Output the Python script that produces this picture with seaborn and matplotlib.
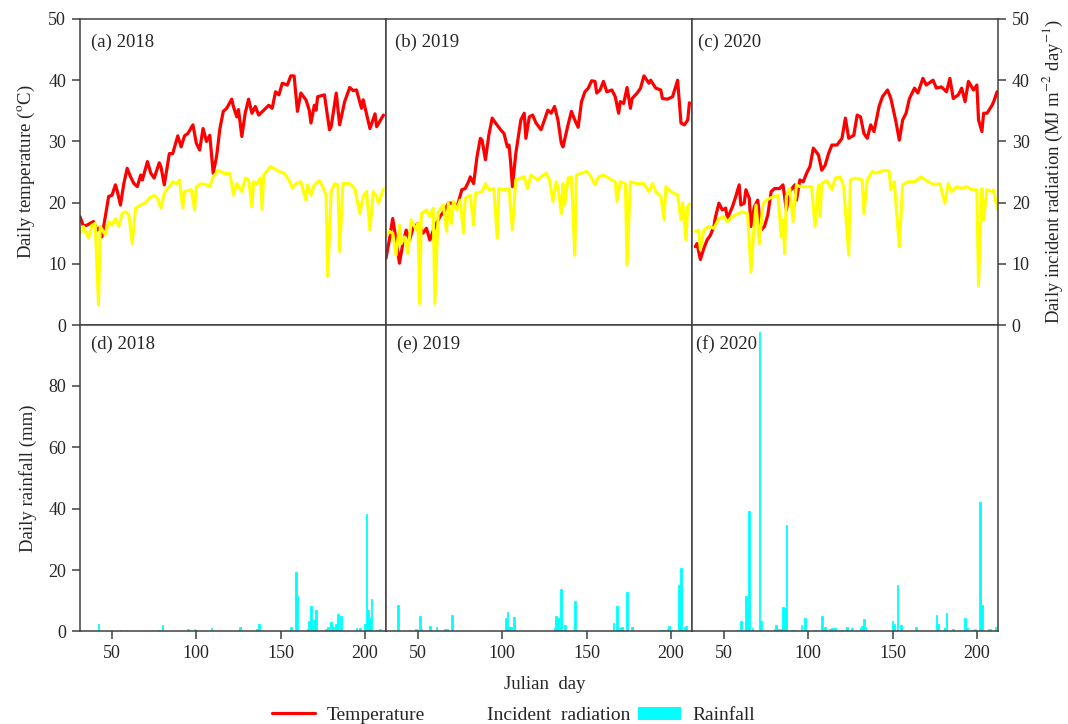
import numpy as np
import pandas as pd
import matplotlib
matplotlib.use('Agg')
import matplotlib.pyplot as plt
from matplotlib.lines import Line2D
from matplotlib.patches import Patch
import seaborn as sns

# ---- data (Julian day, value) ----
temp18_day = [31, 33, 35, 39, 41, 43, 44, 46, 48, 50, 52, 53, 55, 57, 59, 61, 63, 65, 67, 68, 71, 73, 75, 78,
              79, 81, 84, 86, 89, 91, 93, 95, 98, 100, 102, 104, 106, 108, 110, 112, 114, 116, 118, 121, 122,
              124, 125, 127, 129, 131, 133, 135, 137, 140, 143, 145, 147, 149, 151, 154, 156, 158, 160, 162,
              165, 167, 168, 170, 171, 172, 176, 179, 180, 183, 185, 188, 191, 193, 195, 198, 199, 203, 206,
              207, 211]
temp18 = [17.7, 16.2, 16.3, 16.9, 15.5, 16.0, 14.4, 17.7, 21.0, 21.2, 22.9, 22.0, 19.6, 23.1, 25.6, 24.2, 23.1,
          22.6, 24.5, 23.7, 26.7, 24.8, 24.0, 26.5, 25.9, 22.9, 28.0, 28.0, 30.9, 29.1, 30.9, 31.3, 32.7, 29.7,
          28.6, 32.1, 30.0, 31.0, 24.8, 27.5, 32.1, 34.9, 35.4, 36.9, 35.7, 34.0, 35.2, 30.8, 34.6, 36.9, 34.6,
          35.7, 34.3, 35.1, 35.9, 35.4, 38.1, 37.6, 39.5, 39.2, 40.7, 40.7, 34.9, 37.9, 36.8, 35.1, 33.0, 35.9,
          35.1, 37.3, 37.6, 31.9, 32.4, 37.9, 32.7, 36.5, 38.8, 38.3, 38.4, 35.4, 36.8, 32.1, 34.5, 32.4, 34.3]

rad18_day = [31, 33, 36, 38, 40, 42, 43, 46, 48, 50, 52, 54, 56, 58, 60, 62, 64, 67, 70, 72, 75, 77, 79, 81,
             83, 86, 88, 90, 92, 93, 97, 99, 100, 103, 106, 108, 110, 113, 116, 120, 122, 124, 127, 129, 131,
             133, 134, 136, 138, 139, 140, 144, 146, 149, 152, 155, 157, 159, 162, 165, 166, 168, 170, 173,
             175, 177, 178, 180, 182, 184, 185, 187, 191, 194, 197, 199, 201, 203, 205, 207, 208, 211]
rad18 = [14.9, 16.1, 14.2, 16.3, 16.6, 3.3, 16.1, 14.7, 16.9, 16.3, 17.4, 16.1, 18.2, 18.5, 18.0, 13.3, 19.1,
         19.6, 20.0, 20.7, 21.2, 20.7, 19.1, 21.5, 22.3, 23.4, 23.1, 23.7, 19.1, 21.8, 22.1, 18.8, 22.6, 23.1,
         22.9, 22.6, 24.2, 25.3, 24.8, 24.7, 21.2, 23.1, 21.8, 24.0, 23.7, 19.3, 23.4, 23.1, 24.0, 18.9, 24.5,
         25.9, 25.6, 25.1, 24.8, 23.7, 22.3, 23.1, 23.4, 20.4, 22.9, 21.2, 22.9, 23.6, 22.6, 21.2, 7.9, 21.8,
         23.1, 22.9, 12.0, 23.1, 23.1, 22.3, 18.2, 21.0, 21.8, 15.5, 21.8, 21.0, 19.9, 22.2]

temp19_day = [31, 33, 35, 37, 39, 41, 43, 45, 47, 50, 53, 55, 57, 60, 63, 66, 68, 71, 73, 76, 78, 80, 81, 83,
              85, 87, 88, 90, 92, 94, 96, 99, 101, 103, 104, 105, 106, 108, 111, 113, 114, 116, 118, 120, 123,
              125, 127, 129, 131, 133, 135, 136, 139, 141, 143, 145, 147, 149, 151, 153, 155, 156, 158, 160,
              162, 165, 167, 169, 170, 172, 174, 176, 177, 180, 182, 184, 187, 188, 191, 194, 195, 198, 201,
              204, 206, 208, 210, 211]
temp19 = [10.9, 13.9, 17.4, 13.9, 10.1, 13.3, 15.5, 13.9, 15.8, 16.6, 15.0, 15.8, 13.9, 16.1, 17.7, 18.8, 19.9,
          19.9, 19.1, 22.1, 22.3, 23.4, 24.2, 23.1, 27.5, 30.5, 30.2, 27.0, 31.0, 33.8, 33.0, 31.9, 31.3, 29.1,
          29.4, 26.4, 22.6, 28.0, 33.5, 34.6, 30.5, 34.0, 34.3, 33.0, 31.9, 33.5, 35.1, 34.6, 35.7, 33.5, 29.7,
          29.1, 32.7, 34.9, 33.5, 32.3, 36.5, 38.1, 38.7, 39.9, 39.8, 37.9, 38.4, 39.8, 38.1, 38.4, 37.3, 34.6,
          36.5, 36.2, 38.8, 35.4, 37.0, 37.9, 38.7, 40.7, 39.5, 40.0, 38.7, 38.4, 37.0, 36.9, 37.3, 40.0, 33.0,
          32.7, 33.5, 36.3]

rad19_day = [31, 33, 35, 37, 39, 40, 42, 44, 46, 49, 50, 51, 52, 55, 57, 59, 60, 62, 65, 67, 68, 70, 71, 73,
             75, 77, 78, 81, 83, 84, 88, 90, 92, 95, 97, 98, 101, 104, 106, 108, 111, 113, 115, 117, 121, 123,
             126, 128, 130, 132, 133, 135, 136, 137, 139, 141, 143, 144, 147, 150, 152, 155, 157, 160, 163,
             167, 168, 170, 173, 174, 176, 180, 184, 187, 189, 191, 194, 196, 197, 200, 204, 206, 207, 209,
             210, 211]
rad19 = [14.4, 15.3, 15.0, 11.4, 16.3, 13.3, 14.4, 11.7, 17.2, 15.5, 16.6, 3.5, 18.2, 18.8, 17.7, 19.1, 3.5,
         18.5, 19.6, 15.3, 19.9, 16.6, 20.2, 18.8, 20.4, 15.0, 20.7, 21.2, 16.3, 21.5, 21.8, 23.1, 22.1, 22.3,
         14.2, 22.3, 22.1, 22.3, 15.5, 23.7, 24.0, 24.2, 22.3, 24.5, 23.7, 24.2, 24.8, 23.7, 20.2, 23.4, 22.6,
         18.2, 23.1, 19.6, 24.0, 24.2, 11.4, 24.5, 24.8, 25.1, 24.5, 22.9, 24.2, 24.5, 24.0, 23.4, 20.2, 23.4,
         23.1, 9.8, 23.4, 23.1, 23.1, 21.8, 23.1, 21.8, 21.0, 17.2, 22.6, 21.8, 21.2, 17.2, 19.9, 13.9, 19.3,
         19.8]

temp20_day = [33, 34, 36, 38, 40, 42, 44, 45, 47, 49, 51, 52, 55, 57, 59, 60, 62, 63, 65, 66, 68, 70, 72, 74,
              76, 78, 80, 83, 85, 87, 89, 92, 93, 95, 97, 99, 101, 103, 106, 108, 110, 112, 114, 117, 120, 122,
              124, 127, 129, 131, 133, 135, 137, 139, 142, 144, 147, 149, 152, 154, 156, 158, 160, 163, 165,
              168, 170, 174, 176, 179, 182, 184, 186, 189, 191, 193, 195, 198, 200, 201, 203, 204, 206, 209,
              210, 212]
temp20 = [12.8, 13.3, 10.7, 12.5, 13.9, 14.7, 16.1, 17.7, 19.9, 18.8, 19.1, 17.4, 19.3, 21.0, 22.9, 19.6, 19.9,
          22.1, 20.7, 16.1, 19.3, 20.4, 15.5, 16.1, 18.0, 21.8, 22.3, 22.3, 22.9, 18.8, 21.8, 22.9, 20.4, 23.7,
          23.4, 24.8, 25.9, 28.9, 27.8, 25.3, 26.1, 28.0, 29.4, 29.4, 30.5, 33.8, 30.5, 31.0, 34.3, 34.0, 31.3,
          30.5, 32.7, 31.6, 35.7, 37.3, 38.4, 37.0, 33.2, 30.2, 33.5, 34.6, 37.0, 38.7, 37.9, 40.3, 39.2, 40.0,
          38.7, 38.9, 38.1, 40.3, 37.0, 37.6, 38.7, 36.5, 39.8, 38.4, 39.2, 33.5, 31.6, 34.6, 34.6, 35.9, 36.5,
          38.1]

rad20_day = [33, 35, 36, 38, 41, 44, 47, 50, 52, 55, 57, 61, 64, 66, 68, 69, 71, 73, 75, 77, 80, 82, 84, 85,
             86, 87, 89, 91, 93, 95, 98, 102, 104, 106, 107, 108, 111, 114, 116, 119, 121, 124, 125, 128, 132,
             133, 135, 138, 140, 143, 146, 148, 149, 151, 154, 156, 159, 163, 167, 171, 175, 178, 181, 183,
             185, 188, 191, 194, 197, 200, 201, 203, 204, 206, 209, 210, 212]
rad20 = [15.3, 15.5, 12.3, 15.5, 16.1, 15.8, 17.4, 17.7, 16.9, 17.7, 18.0, 18.5, 18.2, 8.7, 16.6, 19.6, 13.3,
         19.6, 20.4, 20.7, 21.0, 21.2, 14.4, 17.2, 11.7, 21.0, 22.3, 16.9, 22.9, 22.6, 22.6, 22.6, 16.1, 22.9,
         17.7, 23.1, 23.6, 22.1, 24.0, 24.2, 22.6, 11.4, 23.7, 24.0, 23.7, 18.2, 23.7, 25.1, 24.8, 25.1, 25.3,
         25.1, 22.1, 23.4, 12.8, 22.9, 23.4, 23.4, 24.2, 23.4, 22.9, 23.1, 19.9, 23.1, 21.8, 22.6, 22.3, 22.6,
         22.1, 22.1, 6.5, 22.3, 17.2, 22.1, 21.8, 22.1, 19.1]

rain18_day = [42, 55, 78, 80, 95, 99, 100, 109, 126, 136, 137, 156, 159, 160, 166, 167, 168, 170, 171, 174, 177,
              178, 180, 181, 183, 184, 186, 195, 197, 200, 201, 202, 203, 204, 207, 209]
rain18 = [2.5, 0.5, 0.5, 2.2, 0.8, 0.8, 0.5, 1.1, 1.4, 0.8, 2.5, 1.4, 19.4, 11.6, 0.8, 3.3, 8.4, 3.8, 7.1, 0.3,
          0.8, 1.6, 3.2, 1.6, 2.5, 5.8, 5.2, 1.1, 1.1, 2.5, 38.4, 7.1, 4.4, 10.6, 0.5, 0.8]

rain19_day = [38, 45, 49, 51, 52, 57, 61, 66, 67, 70, 102, 103, 104, 105, 107, 131, 132, 133, 135, 137, 143, 144,
              166, 168, 170, 171, 174, 177, 194, 196, 198, 199, 201, 205, 206, 208, 209]
rain19 = [8.5, 0.5, 0.8, 4.9, 0.8, 1.8, 1.4, 0.8, 0.8, 5.5, 4.4, 6.3, 1.4, 1.4, 4.6, 1.1, 4.9, 4.4, 14.0, 2.0,
          9.8, 0.5, 2.9, 8.4, 1.1, 1.4, 12.8, 1.4, 0.5, 0.5, 0.9, 1.8, 0.5, 15.2, 20.7, 1.4, 1.8]

rain20_day = [58, 60, 63, 64, 65, 67, 71, 72, 80, 81, 82, 84, 85, 86, 87, 91, 96, 98, 104, 108, 110, 113, 114,
              116, 120, 123, 126, 131, 132, 133, 134, 150, 151, 153, 155, 164, 176, 177, 181, 182, 186, 193,
              194, 197, 199, 202, 203, 207, 208, 211]
rain20 = [0.5, 3.3, 11.6, 5.4, 39.2, 1.1, 97.7, 3.3, 0.8, 2.0, 0.8, 0.8, 7.9, 7.6, 34.8, 0.5, 2.2, 4.4, 0.5, 5.1,
          1.4, 0.8, 1.1, 1.1, 0.5, 1.4, 1.1, 1.1, 1.8, 4.1, 1.4, 3.4, 2.5, 15.2, 2.2, 1.4, 5.4, 2.4, 1.1, 6.0,
          0.8, 4.4, 1.1, 0.5, 0.8, 42.1, 8.5, 0.8, 0.8, 1.4]

top_labels = ['(a) 2018', '(b) 2019', '(c) 2020']
bot_labels = ['(d) 2018', '(e) 2019', '(f) 2020']

temp = [(temp18_day, temp18), (temp19_day, temp19), (temp20_day, temp20)]
rad = [(rad18_day, rad18), (rad19_day, rad19), (rad20_day, rad20)]
rain = [(rain18_day, rain18), (rain19_day, rain19), (rain20_day, rain20)]

sns.set_style('ticks')
plt.rcParams['font.family'] = ['Liberation Serif', 'DejaVu Serif']
plt.rcParams['mathtext.fontset'] = 'stix'
plt.rcParams['font.size'] = 13

edge = '#404040'
fig = plt.figure(figsize=(10.68, 7.24), dpi=100)

x0, w = 0.0749, 0.2865
top_b, h = 0.5511, 0.4227
bot_b = 0.1278
xlim = (31, 212.5)
top_lab_x = [0.036, 0.03, 0.02]
bot_lab_x = [0.036, 0.036, 0.013]

for i in range(3):
    ax = fig.add_axes([x0 + i * w, top_b, w, h])
    d, v = temp[i]
    sns.lineplot(x=d, y=v, ax=ax, color='red', lw=2.3)
    d, v = rad[i]
    sns.lineplot(x=d, y=v, ax=ax, color='yellow', lw=2.2)
    ax.set_xlim(xlim)
    ax.set_ylim(0, 50)
    ax.set_xticks([])
    ax.text(top_lab_x[i], 0.925, top_labels[i], transform=ax.transAxes, fontsize=13.5, va='center')
    if i == 0:
        ax.set_ylabel(r'Daily temperature ($^{\mathrm{o}}$C)', fontsize=13.5, labelpad=8)
    elif i == 2:
        ax.yaxis.tick_right()
        ax.yaxis.set_label_position('right')
        ax.set_ylabel(r'Daily incident radiation (MJ m$^{-2}$ day$^{-1}$)', fontsize=13.5, labelpad=8)
    if i == 1:
        ax.set_yticks([])
    else:
        ax.set_yticks([0, 10, 20, 30, 40, 50])

    axb = fig.add_axes([x0 + i * w, bot_b, w, h + 0.0012])
    d, v = rain[i]
    df = pd.DataFrame({'day': d, 'rain': v})
    sns.histplot(data=df, x='day', weights='rain', discrete=True, shrink=1.0, ax=axb,
                 color='cyan', alpha=1, linewidth=0.6, edgecolor='cyan')
    axb.set_xlim(xlim)
    axb.set_ylim(0, 100)
    axb.set_xticks([50, 100, 150, 200])
    axb.set_xlabel('')
    axb.set_ylabel('')
    axb.text(bot_lab_x[i], 0.935, bot_labels[i], transform=axb.transAxes, fontsize=13.5, va='center')
    if i == 0:
        axb.set_yticks([0, 20, 40, 60, 80])
        axb.set_ylabel('Daily rainfall (mm)', fontsize=13.5, labelpad=8)
    else:
        axb.set_yticks([])

    for a in (ax, axb):
        for s in a.spines.values():
            s.set_color(edge)
            s.set_linewidth(1.1)
        a.tick_params(direction='out', length=6, width=1.1, color=edge, labelsize=13, pad=4)

fig.text(0.51, 0.055, 'Julian  day', ha='center', va='center', fontsize=13.5)

handles = [Line2D([0], [0], color='red', lw=2.3),
           Line2D([0], [0], color='white', lw=2.3),
           Patch(facecolor='cyan', edgecolor='none')]
fig.legend(handles, ['Temperature', 'Incident  radiation', 'Rainfall'], loc='center',
           bbox_to_anchor=(0.481, 0.012), ncol=3, frameon=False, fontsize=14,
           handlelength=2.2, columnspacing=0.4, handletextpad=0.6)

fig.savefig('out.png', dpi=100)
